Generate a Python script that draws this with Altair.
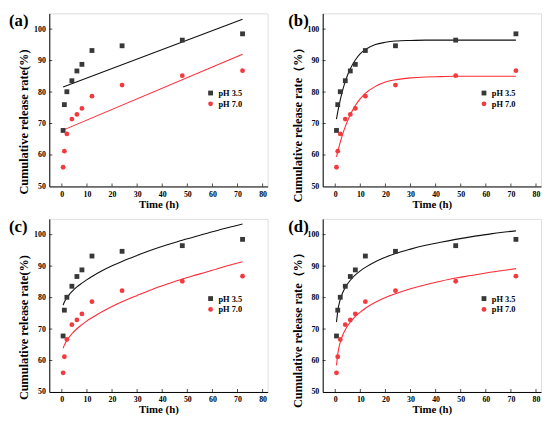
import altair as alt
import pandas as pd

# ---------------- data ----------------
series = ["pH 3.5", "pH 7.0"]
time_h = [0.5, 1, 2, 4, 6, 8, 12, 24, 48, 72]
rel_35 = [67.8, 76.0, 80.1, 83.6, 86.7, 88.8, 93.2, 94.7, 96.5, 98.5]
rel_70 = [56.1, 61.2, 66.7, 71.4, 72.9, 74.8, 78.7, 82.2, 85.2, 86.8]

# fitted curves
lin_t = [0.5, 72]
a_35 = [81.6, 103.1]
a_70 = [67.9, 92.0]

fit_t = [0.5, 1, 2, 3, 4, 6, 8, 10, 12, 16, 20, 24, 30, 36, 42, 48, 54, 60, 66, 72]
b_35 = [71.4, 73.7, 77.5, 80.7, 83.4, 87.4, 90.2, 92.2, 93.5, 95.1, 95.8, 96.2, 96.4, 96.5, 96.5, 96.5, 96.5, 96.5, 96.5, 96.5]
b_70 = [59.4, 61.1, 64.1, 66.7, 69.0, 72.8, 75.7, 77.9, 79.6, 81.8, 83.2, 83.9, 84.5, 84.8, 84.9, 85.0, 85.0, 85.0, 85.0, 85.0]
c_35 = [77.6, 78.6, 79.9, 81.0, 81.9, 83.4, 84.6, 85.7, 86.7, 88.5, 90.1, 91.5, 93.4, 95.2, 96.8, 98.2, 99.6, 100.9, 102.2, 103.4]
c_70 = [63.9, 64.9, 66.4, 67.5, 68.5, 70.1, 71.4, 72.6, 73.6, 75.5, 77.2, 78.7, 80.7, 82.6, 84.3, 85.9, 87.3, 88.7, 90.1, 91.4]
d_35 = [72.2, 75.7, 79.4, 81.6, 83.2, 85.5, 87.2, 88.5, 89.6, 91.4, 92.8, 94.0, 95.4, 96.6, 97.6, 98.5, 99.3, 100.0, 100.7, 101.2]
d_70 = [58.5, 62.0, 65.8, 68.1, 69.8, 72.2, 74.0, 75.4, 76.6, 78.5, 80.0, 81.2, 82.8, 84.1, 85.2, 86.2, 87.0, 87.8, 88.5, 89.2]

x_ticks = [0, 10, 20, 30, 40, 50, 60, 70, 80]
y_ticks = [50, 60, 70, 80, 90, 100]

FONT = "Liberation Serif"
W, H = 222, 176
POINT_COLORS = ["#383838", "#f23a3f"]
LINE_COLORS = ["#111111", "#ff2a36"]
SHAPES = ["square", "circle"]


def panel(label, ytitle, fx, f35, f70, lab_x):
    xs = alt.Scale(domain=[-5, 82], nice=False, zero=False)
    ys = alt.Scale(domain=[50, 105], nice=False, zero=False)
    pts = pd.DataFrame({"t": time_h + time_h, "r": rel_35 + rel_70,
                        "s": [series[0]] * len(time_h) + [series[1]] * len(time_h)})
    fit = pd.DataFrame({"t": fx + fx, "r": f35 + f70,
                        "s": [series[0]] * len(fx) + [series[1]] * len(fx),
                        "c": [LINE_COLORS[0]] * len(fx) + [LINE_COLORS[1]] * len(fx)})
    xaxis = alt.Axis(values=x_ticks, title="Time (h)", tickSize=0, labelPadding=4,
                     labelFont=FONT, labelFontWeight="bold", labelFontSize=8, labelColor="black",
                     titleFont=FONT, titleFontWeight="bold", titleFontSize=11, titleColor="black",
                     titlePadding=0, grid=False, domainColor="black", labelFlush=False)
    yaxis = alt.Axis(values=y_ticks, title=ytitle, tickSize=0, labelPadding=4,
                     labelFont=FONT, labelFontWeight="bold", labelFontSize=8, labelColor="black",
                     titleFont=FONT, titleFontWeight="bold", titleFontSize=12.5, titleColor="black",
                     titlePadding=3, titleY=110, grid=False, domainColor="black")
    X = alt.X("t:Q", scale=xs, axis=xaxis)
    Y = alt.Y("r:Q", scale=ys, axis=yaxis)
    lines = alt.Chart(fit).mark_line(strokeWidth=1.1, interpolate="monotone").encode(
        x=X, y=Y,
        stroke=alt.Stroke("c:N", scale=None),
        detail="s:N",
    )
    points = alt.Chart(pts).mark_point(filled=True, size=24, opacity=1, strokeWidth=0).encode(
        x=X, y=Y,
        shape=alt.Shape("s:N", scale=alt.Scale(domain=series, range=SHAPES), legend=None),
        color=alt.Color("s:N", scale=alt.Scale(domain=series, range=POINT_COLORS), legend=None),
    )
    xt = alt.Chart(pd.DataFrame({"t": x_ticks})).mark_tick(size=3, thickness=1, color="black").encode(
        x=X, y=alt.value(H - 1.5))
    yt = alt.Chart(pd.DataFrame({"r": y_ticks[1:]})).mark_tick(size=3, thickness=1, color="black").encode(
        y=Y, x=alt.value(1.5))
    lab = alt.Chart(pd.DataFrame({"lab": [label]})).mark_text(
        font=FONT, fontWeight="bold", fontSize=17, align="left", baseline="top", color="black"
    ).encode(text="lab:N", x=alt.value(lab_x), y=alt.value(0))
    layers = [lines, points, xt, yt, lab]
    # in-plot legend
    for i, s in enumerate(series):
        one = pd.DataFrame({"s": [s]})
        ly = 81 + 11 * i
        layers.append(alt.Chart(one).mark_point(filled=True, size=24, opacity=1, strokeWidth=0).encode(
            x=alt.value(164), y=alt.value(ly), shape=alt.value(SHAPES[i]), color=alt.value(POINT_COLORS[i])))
        layers.append(alt.Chart(one).mark_text(
            font=FONT, fontWeight="bold", fontSize=8.5, align="left", baseline="middle", color="black"
        ).encode(text="s:N", x=alt.value(172), y=alt.value(ly)))
    return alt.layer(*layers).properties(width=W, height=H)


ya = "Cumulative release rate(%)"
yb = "Cumulative release rate（%）"
pa = panel("(a)", ya, lin_t, a_35, a_70, -41)
pb = panel("(b)", yb, fit_t, b_35, b_70, -35)
pc = panel("(c)", ya, fit_t, c_35, c_70, -41)
pd_ = panel("(d)", yb, fit_t, d_35, d_70, -35)

chart = alt.concat(
    pa, pb, pc, pd_, columns=2, spacing={"row": 7, "column": 19}
).resolve_scale(
    x="independent", y="independent", color="independent", shape="independent"
).properties(
    padding=0
).configure_view(
    stroke="black", strokeWidth=1
).configure(background="white")

chart.save("out.html", embed_options={"renderer": "svg", "actions": False})
